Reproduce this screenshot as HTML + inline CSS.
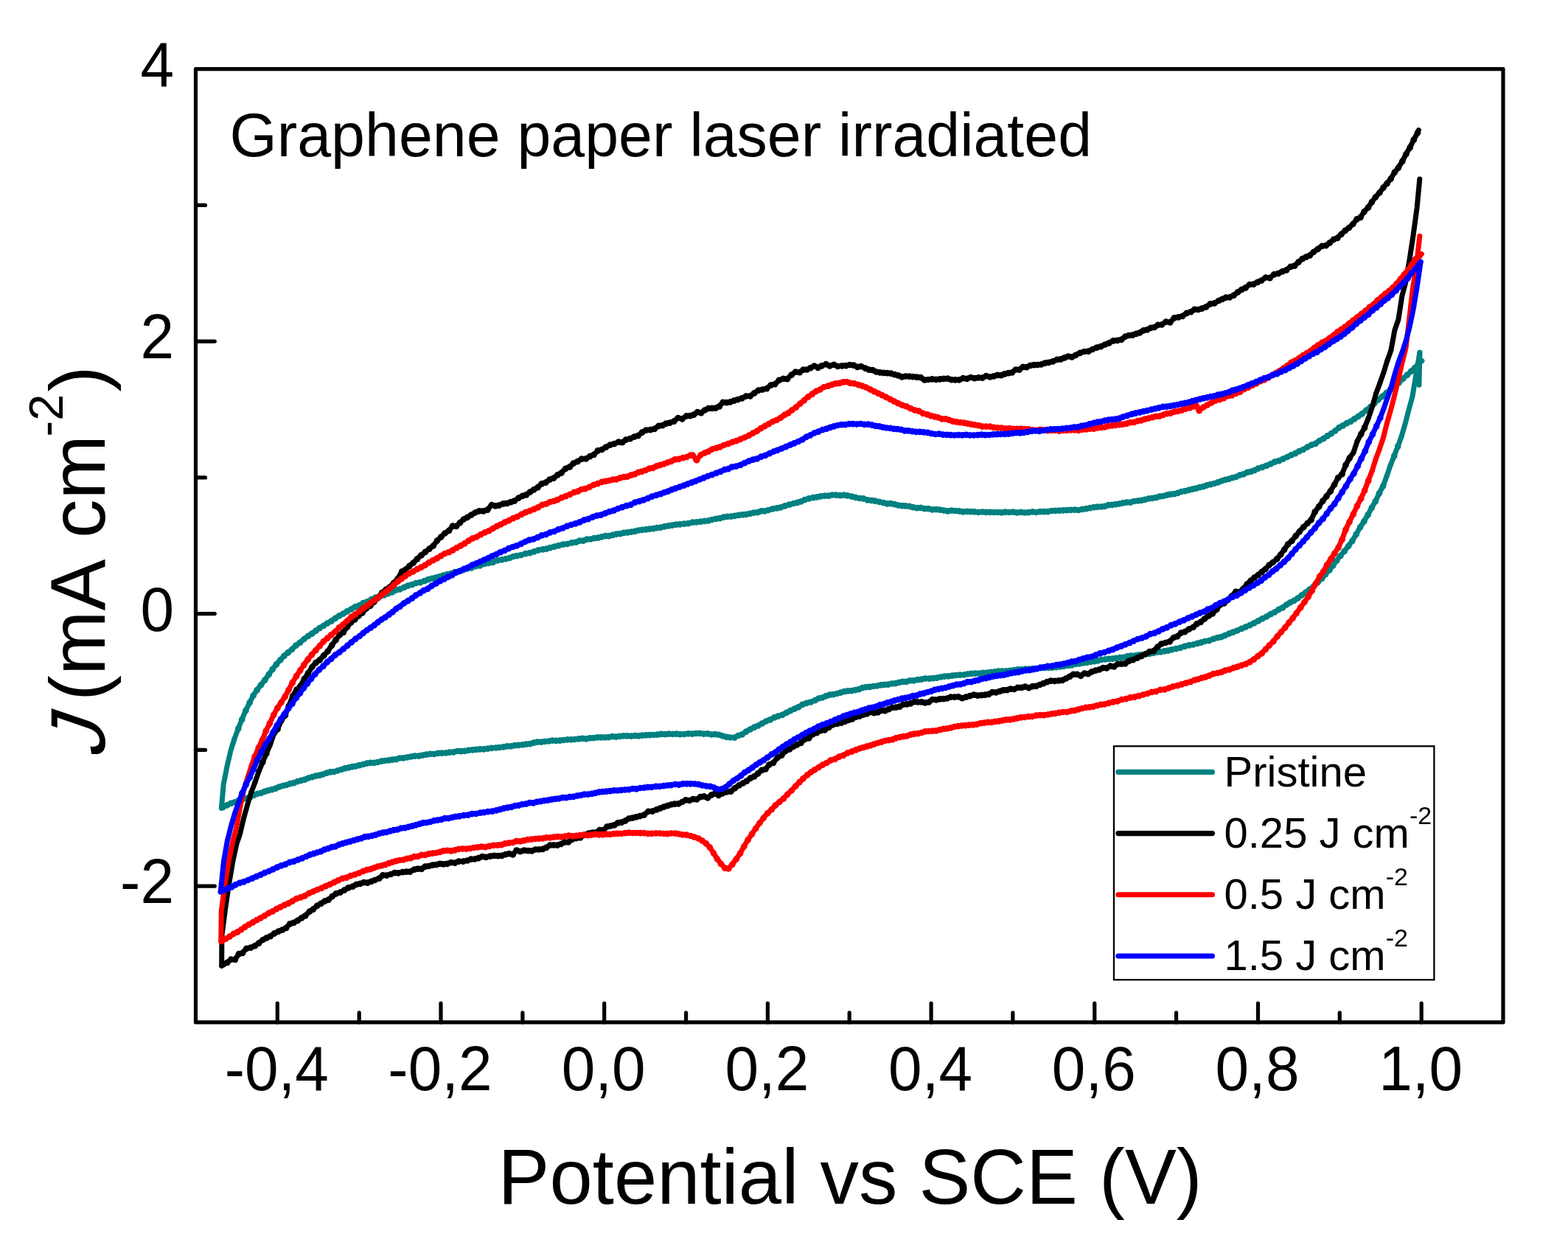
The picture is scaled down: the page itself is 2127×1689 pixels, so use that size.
<!DOCTYPE html>
<html lang="en">
<head>
<meta charset="utf-8">
<title>Graphene paper laser irradiated - cyclic voltammetry</title>
<style>
html,body{margin:0;padding:0;background:#fff;}
body{width:2127px;height:1689px;overflow:hidden;}
svg{display:block;}
text{font-family:"Liberation Sans",Arial,Helvetica,sans-serif;fill:#000;}
.ax{fill:none;stroke:#000;stroke-width:5.2;stroke-linecap:round;stroke-linejoin:round;}
.cv{fill:none;stroke-width:7.0;stroke-linecap:round;stroke-linejoin:round;}
.tk{font-size:82px;}
.lg{font-size:58px;}
</style>
</head>
<body>
<svg xmlns="http://www.w3.org/2000/svg" width="2127" height="1689" viewBox="0 0 2127 1689">
<rect x="0" y="0" width="2127" height="1689" fill="#ffffff"/>
<defs>
<marker id="dot-teal" markerUnits="userSpaceOnUse" markerWidth="12" markerHeight="12" refX="6" refY="5.8" viewBox="0 0 12 12" overflow="visible"><circle cx="6" cy="6" r="4.35" fill="#008080"/></marker>
<marker id="dot-black" markerUnits="userSpaceOnUse" markerWidth="12" markerHeight="12" refX="6" refY="5.8" viewBox="0 0 12 12" overflow="visible"><circle cx="6" cy="6" r="4.35" fill="#000000"/></marker>
<marker id="dot-red" markerUnits="userSpaceOnUse" markerWidth="12" markerHeight="12" refX="6" refY="5.8" viewBox="0 0 12 12" overflow="visible"><circle cx="6" cy="6" r="4.35" fill="#ff0000"/></marker>
<marker id="dot-blue" markerUnits="userSpaceOnUse" markerWidth="12" markerHeight="12" refX="6" refY="5.8" viewBox="0 0 12 12" overflow="visible"><circle cx="6" cy="6" r="4.35" fill="#0000ff"/></marker>
</defs>
<g id="curves">
<g id="curve-teal" class="cv" stroke="#008080">
<path d="M1925 522.2L1925.8 481.7"/>
<path d="M1925.8 481.7L1925.9 478.2"/>
<path d="M1925.9 478.2L1920.9 508.2L1915.9 538.2L1911 556.1L1906.1 575.1L1901.1 592.3"/>
<path marker-mid="url(#dot-teal)" d="M1901.1 592.3L1896.2 605.5L1891.2 618.5L1886.1 631.2"/>
<path d="M1886.1 631.2L1881.1 646.1"/>
<path marker-mid="url(#dot-teal)" d="M1881.1 646.1L1876.1 659.4L1871 669L1865.8 679.9L1860.8 688.6L1855.7 698.1L1850.3 707.2L1845.2 714.9L1839.8 724.6L1834.4 733.6L1829.2 740.6L1823.7 747.6L1818.4 753.8L1813.3 760.1
L1808.3 767L1803.4 773.2L1798.1 778.9L1793.1 784.8L1787.7 789.8L1782.2 795.1L1776.7 799.3L1771 803.6L1765.8 807.3L1760.6 811.3L1755.4 814.6L1750.2 817.1L1745.1 820.3L1739.9 824.2
L1734.7 826.7L1729.3 830.3L1723.7 833L1718.1 836.3L1712.4 839.1L1706.8 842.1L1701.1 845.2L1695.5 847.9L1689.7 850.4L1684.3 852.7L1678.4 855.3L1672.7 857.4L1667.3 859.4L1661.6 861.9
L1656.6 864L1651.6 864.9L1646 866.6L1640.2 868.9L1634.3 869.8L1629.4 871.4L1624.4 872.6L1618.6 874.3L1612.8 875.2L1607 876.6L1601.1 878.6L1595.3 880L1589.4 881.2L1584.4 882.4
L1579.4 883.1L1574.4 884.3L1569.4 884.4L1564.4 885.7L1559.4 886.7L1554.3 886.8L1549.3 887.9L1544.3 888.4L1539.3 889.3L1534.3 889.5L1529.3 890.2L1524.3 891.7L1519.2 891.9
L1514.2 892.7L1509.2 893.4L1504.2 893.7L1499.2 894.3L1494.1 894.8L1489.1 896.2L1484.1 897L1479.1 897.7L1474.1 898.6L1469.1 899.2L1464 900.2L1458.8 900.6L1453.7 902.2L1448.7 902.7
L1442.9 903.7L1437.8 904.2L1432.5 905L1427.4 905.4L1422.3 905.7L1417.1 905.7L1411.9 906L1406.6 907L1401.4 906.8L1396.2 907.4L1391 907.4L1385.7 908.1L1380.5 908.2L1375.3 908.9
L1370.1 909.6L1364.8 910.3L1359.6 910.3L1354.4 910.3L1349.2 911.2L1344 911.6L1338.7 912.4L1333.5 912.6L1328.3 913.5L1323.1 913.4L1317.8 913.7L1312.6 914.3L1307.4 915.3L1302.2 915.5
L1296.9 915.8L1291.7 916.4L1286.5 917.1L1281.3 917.5L1276 918.3L1270.8 919.4L1265.6 920L1260.4 920.5L1255.1 920.3L1249.9 921.4L1244.7 921.9L1239.5 923.2L1234.3 923.2L1229.3 924.6
L1224.4 924.6L1219.4 925.6L1214.5 926.9L1209.5 927.3L1204.6 928.4L1199.6 928.7L1194.7 929.1L1189.7 930.3L1184.8 930.8L1179.8 931.6L1174.9 932L1169.9 933L1165 934.9L1160 936
L1155.1 937L1150.1 937.2L1145.2 937.9L1140.2 939.5L1135.3 940.8L1130.3 941.9L1125.4 942.5L1120.4 944.1L1115.5 946.3L1110.5 947.3L1105.6 950L1099.8 952.3L1094.1 953.6L1088.5 955.7
L1082.9 959.2L1077.6 961.5L1072.3 963.9L1066.9 966.7L1061.3 969.7L1055.5 971.5L1050.6 973.1L1044.8 976.1L1039.2 978.3L1033.8 981.3L1028.5 984.3L1023.2 986.4L1017.7 989.3
L1012.1 992.4L1006.7 996.2L1001.3 997.8L996.4 1000.4L990.6 1000.3L985.6 999.6L980.4 998.3L975.3 996.7L970.2 996L965.1 996.3L959.8 995.1L954.7 995.4L949 994.6L944 994.8L938.9 995.4
L933.6 995.1L928.3 995.8L922.5 996L917.5 995.5L912.4 995.6L907.2 995.4L902 996L896.8 995.7L891.7 996.5L886.6 996.8L881.5 996.9L876.4 997.2L871.4 997.4L866.3 998.1L861.2 997.9
L856.1 998.5L851 998.2L845.9 998.2L840.9 998.6L835.8 999.4L830.7 999L825.6 999.9L820.5 1000.3L815.4 1000.2L810.4 1000.1L805.3 1001L800.2 1001.1L795.1 1002.1L790 1001.7L785 1002.2
L779.9 1002.8L774.8 1003.2L769.7 1003.2L764.6 1003.8L759.5 1004.4L754.4 1004.6L749.4 1004.5L744.3 1005.3L739.2 1005.8L734.1 1006.4L729 1006.5L724 1007.5L718.9 1008.9L713.8 1009.5
L708.7 1010.2L703.6 1010.7L698.5 1011L693.3 1012.2L688 1012.2L682.8 1013.2L677.6 1013.8L672.6 1014.3L666.8 1014.7L661.6 1015.4L656.2 1016.2L651 1016.2L646 1016.7L641.1 1017.1
L635.7 1017.6L630.5 1018.7L625.4 1018.9L620.2 1018.8L615 1020.2L609.8 1020.4L604.5 1021.3L599.3 1021.4L594.1 1021.7L588.9 1022.8L583.7 1022.7L578.4 1023.4L573.2 1024.4L568 1025.5
L562.8 1025.4L557.5 1026.3L552.3 1027.3L547.1 1028.2L542.1 1028.3L537.2 1029.9L532.2 1030.4L527.3 1031.2L522.3 1031.8L517.4 1032.4L512.4 1033.8L507.5 1034.7L502.5 1034.6
L497.6 1035.4L492.6 1036.8L487.7 1038L482.7 1039.3L477.8 1040L472.9 1041.2L467.9 1042.2L463 1043.8L458 1045.3L453.1 1046.8L448.1 1047.1L443.2 1048.4L438.2 1050.3L433.3 1051.6
L428.3 1052.4L423.4 1053.9L418.4 1055.3L413.5 1057.5L408.5 1058.6L403.6 1060L398.6 1062L393.7 1062.9L388.7 1064.8L383.8 1065.8L378.8 1067.3L373.9 1069.4L368.9 1071L364 1072.1
L359 1073.6L354.1 1075.6L349.1 1076.6L344.2 1078.6L339.2 1081.1L334.2 1082.9L329.2 1083.6L324.3 1085.3L318.4 1088.2L313.3 1089.6L307.9 1092.1L302.8 1094.8L300.4 1096.3"/>
<path d="M300.4 1096.3L303.2 1064.2L308.2 1038.7L313.2 1017.5L318.1 1002.1"/>
<path marker-mid="url(#dot-teal)" d="M318.1 1002.1L323.2 988.4L328.2 976L333.4 963.7L338.7 953L343.6 943.5L348.6 936L354.1 929L359.3 922.5L364.8 914.7L369.7 907.7L374.9 901.2L380.3 895.2L385.4 889.6L390.7 885.2
L396.1 880.8L401.5 875.5L406.9 871.7L412.5 866.8L418.1 862.7L423.2 859.5L428.3 855.6L433.5 851.9L438.8 848.8L444.2 845.3L449.5 842.4L454.9 838.6L460.3 835.2L465.6 832.5L471 829.2
L476.4 826.3L481.8 823.1L487.1 821.4L492.6 817.9L498.2 816.2L503.8 812.9L509.5 810.5L515.3 809L521.1 807.1L526.1 805.1L531.8 803.3L537 800.5L542.5 799.1L548.2 796.7L553.3 794.5
L559 793L564.3 790.8L570 789.9L575.8 788L580.9 786L586 784.7L591.1 783.4L596.2 782.2L601.2 780.5L607 778.9L612 777.8L616.9 776L621.8 775.2L627.7 773.2L633.5 771.5L639.4 770.1
L645.2 768L651.1 767.2L657 764.8L662.8 763.7L668.7 762.6L674.6 760.1L680.5 759.2L686.3 758L691.2 756.8L696.1 754.8L701 753.9L706.9 752.8L712.8 751L718.7 749.9L724.5 748.2
L730.4 746.1L736.3 745.1L741.2 744.5L746.1 742.9L752 741.5L757.8 740L763.7 738.5L769.6 737.8L775.5 736.2L781.3 735.4L786.2 733.4L791.1 733.4L796.1 731.5L801.1 731.3L806.1 730
L811.1 729.4L816.1 728.1L821.1 726.9L826.1 726.9L831.1 725.7L836.1 724.4L841.1 724L846.1 722.7L851.1 722.1L856.1 721.5L861.1 720.7L866.1 719.3L871.1 718.6L876.1 718.1L881.1 717.4
L886.1 717L891.1 715.9L896.3 715.4L901.5 714.1L906.8 713.1L912 712.5L917.2 711.4L922.3 711.1L928.1 710.5L933.6 710L939.5 708.4L944.7 708.2L950.5 707.5L956.1 706.6L961 706.2
L966.1 704.8L971.3 703.7L976.4 702.9L981.5 701.4L986.6 700.6L991.7 700.4L996.8 699.6L1001.9 698.6L1007 698.1L1012.1 697.6L1017.2 696.6L1022.4 695.5L1027.5 695L1032.5 693.2
L1037.4 693.1L1042.3 691.8L1048.2 690.2L1054 689.1L1058.9 688.1L1064.8 686.1L1070.7 684.5L1076.6 682.8L1081.5 681.6L1086.5 680.1L1091.4 678L1097.3 676.1L1103.1 675L1108.2 674.1
L1113.2 673.1L1118.9 672.5L1124 672.5L1129 671.3L1134 671.4L1139.7 671.9L1144.7 671.4L1149.7 672.2L1155.4 673.4L1160.6 674.6L1165.9 675.8L1171.1 676.2L1176.9 678.2L1182.1 678.7
L1187 679.4L1192.8 680.6L1198.6 681.9L1203.6 683.1L1208.5 683L1213.5 683.9L1218.4 685.3L1223.4 686L1228.3 686.1L1233.3 686.7L1238.4 688L1243.7 688.9L1248.9 688.7L1254.1 689.9
L1259.3 690L1264.5 691.1L1269.8 691L1275 691.5L1280.2 692.3L1285.4 693.1L1290.7 692.4L1295.9 692.8L1301.1 693.2L1306.3 694.1L1311.6 693.7L1316.8 693.9L1322 694.2L1327.2 694.8
L1332.5 694.3L1337.7 694.6L1342.9 694.7L1348.1 694.8L1353.4 694.8L1358.6 695.2L1363.8 694.5L1369 694.8L1374.3 694.4L1379.5 695.3L1384.7 694.7L1389.9 695.3L1395.1 694.9L1400.4 694.2
L1405.6 694.8L1410.8 693.9L1416 694L1421.3 693.9L1426.4 692.8L1431.6 692.6L1436.8 692.5L1442.1 692.2L1447.2 691.9L1452.5 691.6L1457.9 691.4L1463 691.8L1468.3 690.6L1473.5 689.9
L1478.6 688.9L1483.8 688L1488.8 687.4L1493.7 687.3L1498.7 686.6L1503.6 685L1508.6 684.6L1513.5 684L1518.4 683.3L1523.4 682.1L1528.3 681.3L1533.3 681.4L1538.2 679.8L1543.2 679.3
L1548.1 678.7L1553.1 677.6L1558 676.3L1563 675.7L1567.9 674.9L1572.9 673.4L1577.8 672.8L1582.8 671.5L1587.7 670.4L1592.7 670L1597.6 668.7L1602.6 666.8L1607.5 666L1612.5 664.6
L1617.4 663.4L1622.4 662.5L1627.3 660.9L1632.3 659.9L1637.2 658.1L1642.2 656.9L1647.1 655.8L1652.1 654.2L1657 652.3L1662 650.7L1666.9 649.6L1671.9 647.9L1676.8 646.8L1681.8 644.3
L1686.7 643.2L1691.7 640.7L1696.6 639.7L1701.6 638L1706.5 635.5L1712.3 633.6L1717.9 631.7L1723.6 629.1L1729.2 626.5L1734.9 625L1740.5 622.5L1746.2 619.8L1751.6 617.1L1757.1 614.9
L1762.4 611.9L1767.8 609.8L1773.6 606.3L1779.1 603.5L1784.5 601.6L1789.8 597.8L1795.2 595L1800.7 591.2L1806 588L1811.2 584.3L1816.4 579.9L1821.7 577.1L1826.9 573.9L1832.1 571.7
L1837.3 568.1L1842.5 564.8L1847.7 561.1L1853.4 556.5L1859 552L1864.3 547.3L1869.5 542.2L1875.1 537.6L1880.7 533L1886.4 527.9L1892 523.1L1897.7 518.9L1903.3 513.4L1908.9 508.5
L1914.3 503.5L1919.4 498.8L1924.5 493L1928.9 489.5"/>
</g>
<g id="curve-black" class="cv" stroke="#000000">
<path d="M1925.8 243.1L1922.1 282.1L1917 319.7L1912 352.2L1906.9 382.5L1901.9 401.4L1896.9 433.5L1892 447.7L1886.9 475.2"/>
<path d="M1886.9 475.2L1881.9 489.1"/>
<path d="M1881.9 489.1L1877 505.2L1871.7 520.2"/>
<path d="M1871.7 520.2L1866.5 534.1"/>
<path d="M1866.5 534.1L1861.5 551.9L1856.3 567.1"/>
<path marker-mid="url(#dot-black)" d="M1856.3 567.1L1851.1 579.9L1846.2 588.8L1841.1 598.7"/>
<path d="M1841.1 598.7L1835.9 614.2"/>
<path marker-mid="url(#dot-black)" d="M1835.9 614.2L1830.7 621.2L1825.5 630.7L1820.5 643L1815.1 648.1L1810.1 657.3L1804.8 666.2L1799.5 673.2L1794.4 679.5L1789.1 687.2L1783.8 694.1L1778.7 704.9L1773.6 709.8L1768.2 715
L1762.8 720.9L1757.7 727L1752.4 733.6L1747.2 738.2L1742.2 745.4L1737.2 752.3L1732.2 758.1L1726.7 762.8L1721.7 766.3L1716.7 771.8L1711.7 775.6L1706.7 779.9L1701.6 783.3L1696.6 787.6
L1691.6 792.4L1686.6 798.4L1681.5 803L1676.3 802.6L1670.8 808.6L1665.5 813.8L1660.5 818.3L1655.5 819.9L1650.5 826.5L1644.8 832.3L1639.7 835.2L1634 839.3L1628.8 843.7L1623.6 846.1
L1618.5 850.8L1612.8 853.4L1607.3 856.9L1602.1 858.5L1597.1 863.1L1592.1 864.8L1586.7 870.1L1581 871.8L1575.4 873.5L1570.1 877.7L1564.8 883L1559.4 883.9L1553.8 887.3L1548.2 890
L1542.5 892.5L1536.9 894.9L1531.2 896.7L1526.3 900.2L1521.3 900.4L1516.2 900.6L1511.2 904.1L1506.2 903.4L1501.2 906.1L1496.2 906L1491.1 908.3L1486.1 909.5L1481.1 911.1L1476.1 913.9
L1471.1 913.3L1466.1 916.6L1461.1 914.7L1456 914.7L1451.1 917.6L1446.1 920.3L1441 922.7L1436 923.2L1430.8 923.7L1425.5 923.4L1420.3 925L1415.4 927L1410.5 928.8L1405.5 930.6
L1400.6 931L1395.6 932.9L1390.6 931.3L1385.7 932.6L1380.7 932.7L1375.8 934.8L1370.8 934.4L1365.9 935.9L1360.9 936.1L1356 937.6L1351.1 939.3L1346.1 938.9L1341.2 941.6L1336.2 942.5
L1331.3 943L1326.2 943.5L1321 942.4L1315.7 943.9L1310.5 945.4L1305.3 946.9L1300.1 945.2L1294.8 945.5L1289.7 945.4L1284.7 947.3L1279.8 947.9L1274.8 948.2L1269.9 949.3L1264.9 948.8
L1260 952.3L1255 953.3L1250.1 952.2L1245.1 952.3L1240.2 951.9L1235.2 954.1L1230.3 955.1L1225.3 955.4L1220.4 958.4L1215.4 959.4L1210.5 959.8L1205.6 961.9L1200.6 963.9L1195.7 963.6
L1190.7 966.2L1185.7 967L1180.8 966L1175.8 968.1L1170.9 969.4L1165.9 971.4L1161 972.4L1156.1 975.3L1151.1 976.8L1146.1 978.7L1141.2 980.4L1135.5 981.8L1129.8 983L1124.2 986.7
L1118.7 990.2L1113.3 991L1107.9 994L1102.6 995.9L1097.2 1001.1L1091.8 1002.7L1086.5 1007.6L1081.2 1010.1L1076.2 1012.7L1071.1 1016.1L1065.9 1018.5L1060.3 1024.4L1054.7 1027.6
L1049 1034.7L1043.4 1037.1L1038.5 1043.3L1033.3 1044.6L1028.2 1049.2L1023.2 1053.2L1018.1 1055.5L1013 1059.4L1007.9 1062.3L1002.6 1065.2L997 1069L991.4 1073.5L985.7 1074.2
L979.8 1076.2L974.8 1078.7L969.9 1076.5L964.9 1078.4L960 1082.3L955 1080.2L950.1 1081L945.1 1084.3L940.1 1083.9L935.2 1085.8L930.3 1085.2L925.3 1087.8L920.4 1090.2L915.4 1090.5
L910.5 1091.3L905.5 1092.9L900.6 1094.5L895.6 1096.4L890.7 1098.2L885 1100.5L879.4 1100.6L873.7 1105.4L867.9 1106.9L863 1108.1L858 1109.5L853.1 1110.3L848.1 1113.5L843.2 1115.4
L838.2 1116.2L833.3 1119.2L828.3 1120.3L823.4 1121.5L818.4 1126.1L813.5 1125.8L808.5 1129.1L803.6 1129.4L798.6 1130.4L792.9 1132.3L787.2 1136.2L781.6 1137L775.9 1138.7L770.9 1142.3
L766 1142.4L761 1144.8L756.1 1146.5L751.1 1146.3L746.2 1146.4L741.2 1149.6L736.3 1151.6L731.3 1152.3L726.4 1152.3L721.4 1154.1L716.2 1153.9L711 1153.4L705.7 1154.9L700.6 1153.5
L695.7 1159.2L690.7 1157.9L685.8 1159L680.7 1160.6L675.6 1161L670.4 1160.6L665 1161.5L659.2 1162.6L654.1 1162L649 1163.9L644 1165.3L639 1165.5L634 1167.3L628.2 1168.4L622.3 1168.5
L617.1 1170.5L611.9 1170L606.6 1171.7L601.5 1172.1L596.6 1171.6L591.6 1172.9L586.7 1173.5L581.7 1174.8L576.8 1175.4L571.8 1178.6L566.9 1178.5L562 1179.4L556.1 1182.4L551.2 1182.5
L546.1 1183L540.3 1184.2L535.3 1184L530.3 1185.8L524.5 1187.5L519.4 1187.2L514.4 1191.5L508.5 1193.8L503.6 1195.7L498.5 1197.5L493.6 1197L488.6 1198.6L483.5 1199.7L478.5 1202.4
L472.7 1204.1L467.1 1207.5L461.5 1210.4L455.9 1212.1L450.6 1216L445.6 1220.5L440.5 1222.4L435.3 1225.7L430.1 1228.6L424.8 1233.5L419.9 1236.5L414.2 1242.1L409.1 1245.1L403.8 1248.7
L398.4 1251.6L393.3 1253.2L388.2 1258.7L383.2 1261.2L377.7 1263.5L372.2 1266.2L366.8 1269.9L361.7 1272.1L356.6 1274.8L351 1279.4L345.9 1283L340.2 1285.4L334.3 1286.7L329 1292.6
L324 1294L318.9 1301.6L313.4 1301.5L308.3 1305.6L303.2 1307.9L300.7 1310.2"/>
<path d="M300.7 1310.2L300.9 1269.4L305.9 1231L310.9 1197.4L315.8 1168.6L320.8 1145.5L325.7 1130.8L330.8 1109.2L335.8 1091.4L340.9 1074.4"/>
<path d="M340.9 1074.4L345.9 1061.4"/>
<path d="M345.9 1061.4L351.1 1046.4"/>
<path marker-mid="url(#dot-black)" d="M351.1 1046.4L356.3 1033.8L361.3 1022.2L366.3 1010.8"/>
<path d="M366.3 1010.8L371.2 996.4"/>
<path marker-mid="url(#dot-black)" d="M371.2 996.4L376.5 989L381.7 977L386.9 970.1L391.8 957.7L397.1 944.2L402.5 935.5L407.6 930.5L412.8 920.9L418 913.1L423.3 904.8L428.4 898.9L433.7 895.1L439.2 889.2L444.7 883.3
L450.1 875.4L455.5 868L460.9 860.9L465.8 857.7L471 850.4L476.1 844.3L481.3 840.2L486.4 835.2L491.6 831.2L496.9 825.1L502.2 821.8L507.4 816.4L512.7 810.9L518.1 804.1L523.7 799.7
L528.7 796.5L534 790.8L539.6 785.1L545.1 775.4L550.1 772.6L555.4 767.7L560.6 763.5L565.9 758.2L571.4 753.2L576.9 748.7L582.4 744.4L587.7 740.3L593 733.3L598.2 728.5L603.5 723.3
L609.1 719.6L614.1 713.4L619 713.7L624 709L629 704.3L634 701.7L639.3 698.4L644.6 695.3L650.1 693.1L655.8 693.2L661.4 691.4L667 684.9L672.1 686.1L677 685.5L682.8 683.1L687.8 682.6
L692.8 681L697.7 679.5L703.5 675.4L708.7 672.7L713.8 671.2L718.9 667.5L724.1 664.2L729.5 660.9L734.8 656.1L740.2 654.5L745.6 650.4L751 648.5L756.4 644.1L761.5 641.4L767.2 635.6
L772.9 633.2L777.8 628.4L783.4 626L789.1 622.4L794.8 622.2L800.2 619L805.6 616.6L811 611.2L816.4 609.8L822 606.4L827.6 603.5L833.3 601.9L839.2 599.4L844.2 600L849.1 596.5
L854.9 594.9L860.3 592.4L865.6 590.9L871 586.5L876.5 583.4L882.2 583L887.8 581.7L893.6 577.7L898.6 577L903.5 574.5L908.5 573.5L914.2 571.5L919.8 566.8L925.4 568.1L931.2 564.2
L936.2 563.9L941.1 562.4L946.1 559L951.1 559.9L956 556.3L960.9 554L965.9 553.7L970.8 553.5L975.8 551.1L980.7 545.6L985.7 545.9L990.6 545.2L995.6 543.5L1000.6 541.9L1006.4 540.2
L1012 537.3L1017.6 537.1L1023.2 533.2L1028.8 529.5L1034.4 528.3L1040.1 526.9L1045.6 522.4L1051.2 521L1056.8 515.7L1062.4 513.7L1067.9 513.9L1073.6 508.5L1079.1 504.5L1084.8 504.9
L1089.7 501.5L1094.6 501.3L1099.6 498.9L1104.6 496.3L1109.6 498.6L1114.6 496.2L1120.5 494L1125.5 496.2L1131.3 494.7L1136.5 496.8L1142.3 496.1L1147.6 495.9L1152.9 494.8L1158 495.5
L1163.1 497.7L1168.1 497L1173.9 499.5L1178.8 501.4L1183.8 502L1188.7 504.3L1193.7 505.1L1198.6 505.7L1203.6 505.9L1208.5 506.5L1213.5 507.9L1218.4 509.1L1223.4 511.1L1228.3 510.3
L1233.3 510.4L1238.4 510.9L1243.6 511.4L1248.9 512L1254.1 515.3L1259.3 514.8L1264.5 514.1L1269.8 514.7L1275 514.1L1280.2 513.6L1285.4 513.4L1290.7 514.9L1295.9 515.2L1301.1 515.2
L1306.3 512.9L1311.6 513.7L1316.8 511.8L1322 513L1327.2 512.1L1332.5 512.4L1337.7 510L1342.9 511.1L1348.1 510.2L1353 508.7L1358 508.9L1362.9 507.1L1367.9 505.9L1372.8 505.2
L1377.8 501.3L1382.7 501.5L1387.7 497.6L1392.6 497.9L1397.6 495.7L1402.5 494.9L1407.5 494.8L1412.4 494.1L1417.4 492.5L1422.3 491.7L1428.2 490.1L1434 487.7L1439 487.1L1444 485.1
L1449 483.3L1454.1 484.1L1459.2 481.6L1465 478.7L1470.8 476.8L1476.4 476.5L1481.9 473.8L1487.6 471.5L1493.2 470L1498.9 467.3L1504.5 465.1L1510.1 462.2L1515.8 461.6L1521.4 460.4
L1526.4 456.4L1531.3 454.8L1536.3 454.4L1541.2 452.7L1546.2 451.1L1551.1 448.1L1556.1 447.1L1561 444.6L1566 443.8L1570.9 440.7L1575.9 440.3L1581.6 436.4L1587.3 437.1L1592.9 431.1
L1598.5 430.1L1604.1 428.6L1609.8 424.6L1615.4 423L1620.4 419.6L1625.3 419.8L1630.3 418.5L1636.1 416.2L1641.8 412.2L1647.4 411.2L1653.1 407.8L1658 405.7L1663 403.5L1668 403.2
L1673.7 400.4L1679.1 396.2L1684.4 392.6L1689.8 390.1L1695.1 385.8L1700.5 385.4L1705.9 382.7L1711.3 380.3L1717 376.3L1722.6 376.9L1728.3 372.1L1733.9 370.9L1739.6 368.1L1745.2 366.1
L1750.7 361.6L1756.1 360.5L1761.4 355.4L1766.7 350.9L1771.8 348.5L1776.9 346.1L1781.8 341.8L1787.7 337.6L1793.3 333.6L1798.7 332.9L1803.9 329.1L1809.1 324.7L1814.3 322.6
L1819.5 317.6L1824.8 312.6L1830 308.8L1835.3 303.8L1840.6 297.1L1845.6 294.6L1850.6 286.9L1855.9 281.5L1860.9 273.9L1865.9 267.3L1871.3 261.3L1876.5 254.4L1881.6 248.6L1886.6 242.5
L1891.9 233.4L1896.9 227.4L1902.3 218.7L1907.4 208.8L1912.7 199.9L1917.8 189.5L1923 180L1924.4 176.5"/>
</g>
<g id="curve-red" class="cv" stroke="#ff0000">
<path d="M1925.8 320.3L1921.4 360.8L1916.4 391.2L1911.9 431L1907 472.4L1901.9 492.5L1896.8 515.1L1891.6 536.7L1886.6 556.1L1881.6 573.3L1876.5 593.6L1871.5 608.6"/>
<path d="M1871.5 608.6L1866.3 622.6"/>
<path d="M1866.3 622.6L1861.3 638.7"/>
<path marker-mid="url(#dot-red)" d="M1861.3 638.7L1856.1 652.1L1851.2 665.2L1846.1 676.4L1841 686.2L1835.7 697.5L1830.5 707.8L1825.4 718.5L1820.5 732L1815.5 742.6L1810.2 750.7L1805.2 758.5L1800.2 766.1L1795.3 775
L1790.3 781.6L1785 791.4L1779.8 801L1774.7 809.4L1769.5 816.8L1764.1 824.2L1758.7 831.6L1753.6 838.5L1748.4 844.6L1743.1 851.5L1737.8 857.3L1732.7 863.2L1727.4 869.9L1721.8 875.5
L1716.9 880.6L1711.7 886.1L1706.4 889.9L1700.7 894.5L1695.4 897.9L1690 900.6L1684.3 902.4L1678.5 904.5L1673.2 905.9L1667.7 908.2L1661.9 909.4L1656.9 911.6L1651.7 912.8L1646 914
L1640.3 916.4L1635.4 918.3L1630.4 919.4L1625.4 921.3L1620.5 922.4L1614.7 925L1608.9 926.4L1603.1 928.1L1597.3 929.9L1591.4 931.1L1585.6 933.2L1579.8 935.2L1574 935.7L1568.1 938
L1562.3 938.7L1556.5 940.8L1550.7 942.3L1544.8 943.9L1539 945.4L1533.2 946.2L1527.4 948L1521.5 949L1515.7 951.1L1509.9 952.1L1504.1 953.6L1498.2 955.3L1493.2 955.6L1488.2 957
L1483.1 958.5L1478.1 959.2L1473.1 959.7L1468.1 960.8L1462.9 962.1L1457.7 963.7L1452.5 964.3L1447.5 965.8L1441.8 965.8L1436.6 966.7L1431.4 967.7L1426.4 968.3L1421.3 969.3
L1416.1 969.9L1410.8 969.9L1405.6 970.5L1400.4 971.8L1395.1 971.9L1389.9 972.8L1384.7 973.2L1379.7 974.1L1374.8 975.1L1369.9 976.1L1364.9 976.1L1360 977.2L1355 978.1L1350.1 978.7
L1345.1 979.6L1340.2 979.7L1335.2 980.5L1330.3 981L1325.1 982.5L1319.9 983.1L1314.7 983.5L1309.5 983.9L1304.5 984.3L1299.6 985L1294.6 985.8L1289.7 987.2L1284.7 988.2L1279.8 988.6
L1274.8 990L1269.9 991.1L1264.9 991.5L1260 991.8L1255 992.2L1250.1 993.8L1245.1 995L1240.2 995.5L1235.2 996.4L1230.3 998.3L1225.3 998.9L1220.4 1000L1215.4 1001.1L1210.5 1003.1
L1205.5 1004L1200.6 1004.8L1195.6 1006.4L1190.7 1007.8L1185.7 1009.5L1180.8 1011.1L1175.8 1012.4L1170.9 1014L1165.9 1015.3L1161 1017.1L1155.3 1019.4L1149.6 1021.5L1144 1024.6
L1138.3 1026.4L1132.7 1029.6L1127 1031.2L1121.4 1034.8L1116 1037.4L1110.6 1040.8L1105.2 1044.2L1100.2 1047.3L1095.2 1051.1L1089.5 1056.1L1084.5 1060.9L1079.2 1066.5L1073.7 1072.3
L1068.1 1077.7L1063 1083.1L1057.4 1087.8L1051.8 1092.5L1046.7 1098L1041.1 1103.2L1035.7 1109.6L1030.5 1116.3L1025.2 1123.7L1019.9 1131.4L1014.6 1139.2L1009.2 1148.3L1004 1157.7
L998.9 1165.1L993.3 1172.7L988.3 1178.2L983.2 1177.4L977.9 1171.7L973 1165.3L968 1157.3L962.8 1149.4L957.8 1144.2L952.7 1140.5L947.5 1137.3L941.7 1135.4L936.8 1133.8L931.1 1132.5
L926.2 1132.3L921 1131.3L916.1 1130.4L910.4 1130.3L905.4 1130.9L900.2 1130.8L895 1130.3L889.7 1130.3L883.9 1130.6L878.9 1130.7L873.8 1130L868.6 1130L863.4 1129.8L858.2 1129.8
L853.1 1129.5L848 1129.9L842.9 1130.8L837.8 1130.7L832.7 1130.9L827.6 1131.7L822.6 1131.5L817.5 1132.1L812.4 1132.1L807.3 1131.6L802.2 1132.4L797.1 1132.9L792.1 1132.3L787 1132.9
L781.9 1133.7L776.8 1134.2L771.7 1133.5L766.6 1134.3L761.6 1135.3L756.5 1134.9L751.4 1135.5L746.3 1136.2L741.2 1136.2L736.2 1137.2L731.1 1137.4L726 1137.8L720.9 1138.5L715.8 1138.9
L710.7 1140.1L705.7 1141.2L700.6 1141L695.6 1142.8L690.4 1143.5L685.3 1144.2L680.2 1145.9L675.3 1146.4L669.5 1146.7L663.9 1147.6L658.3 1149L653.1 1148.4L648 1149.1L643.1 1149.8
L637.8 1150.8L632.6 1151.4L627.5 1151.3L622.3 1151.7L617.1 1153.2L611.9 1154.1L606.6 1153.7L601.5 1154.2L596.6 1155.7L591.6 1156.8L586.7 1157.5L581.7 1158.2L576.8 1159.6
L571.8 1159.7L566.9 1161.6L561.9 1161.9L557 1163.9L552 1164.7L547.1 1166.3L542.1 1166.8L537.2 1168L532.2 1169.4L527.3 1171L522.3 1172.9L517.4 1174.3L512.4 1175.3L507.5 1177.1
L502.5 1178.9L497.6 1180L492.6 1181.7L486.9 1184.3L481.3 1186.3L475.6 1188L470 1190.5L464.3 1191.6L458.7 1194.1L453.1 1196.9L447.4 1199.7L441.8 1202L436.1 1204.7L430.5 1206.8
L424.9 1209.3L419.2 1211.7L413.6 1215.1L407.9 1217.1L402.3 1219L396.6 1222.4L391.2 1225.4L385.9 1227.6L380.5 1230.4L375.1 1233L369.8 1236.1L364.4 1238.6L359 1242.1L353.6 1245.1
L348.3 1248L342.9 1251.1L337.6 1254.1L332.3 1257.4L327.2 1260.9L322.2 1264.1L316.8 1266.7L311.5 1270.5L306.3 1273.5L300.7 1276.7L299.8 1276.8"/>
<path d="M299.8 1276.8L300.2 1236.1L305.2 1199L310.3 1167.8L315.3 1143.7L320.5 1123.5L325.5 1095.8L330.5 1072.6L335.5 1056.3L340.7 1040"/>
<path marker-mid="url(#dot-red)" d="M340.7 1040L345.7 1026.2L350.9 1014L355.9 1003.6L360.8 991.5L365.9 981.2L371.3 969.6L376.3 960.5L381.4 952.8L386.6 945L391.5 935.8L396.7 926L402.1 917L407.2 909.4L412.3 901.9
L417.7 894.4L422.9 888L428.4 881.9L433.8 876L438.8 870.1L444.1 865.7L449.3 861.2L454.7 856.8L460.2 851.1L465.6 847.1L471.2 841.8L476.7 836.7L482.2 833.2L487.8 829.1L492.7 825.1
L497.7 821.7L502.7 817.8L507.8 813.9L512.8 810.6L518.4 806.2L523.8 802.5L529.3 797.6L534.7 793.1L539.7 788.7L544.7 784.9L549.8 781.3L555.1 777.6L560.5 775.1L565.9 771.9L571.3 769.4
L576.6 766.6L582 763L587.4 760L592.8 757.2L598.1 754L603.5 750.8L608.9 749L614.3 746.1L619.6 742.9L625 740.2L630.2 737.2L635.6 733.4L641.1 730.2L646.5 728.3L652.1 724.9L657.8 722.1
L663.3 720L668.7 716.8L674.1 713.6L679.4 711.3L684.7 708.5L690.4 706L696 702.9L701.7 700.8L707.3 697.7L713 695L718.6 692.9L724.2 690.7L729.9 688.2L735.5 684.7L741.2 683.3
L746.1 680.8L751.1 679.6L756.1 678L761.9 675L767.5 672.9L773.1 670.6L778.8 667.7L783.8 666.5L788.7 663.8L793.7 663L799.5 660.7L805.1 657.8L810.7 655.9L816.4 653.7L821.4 652.6
L826.3 651.8L831.3 650.5L836.2 650.1L841.2 648.2L846.2 647L851.1 646.5L856 644.4L861 643.1L865.9 640.7L870.9 639.4L875.8 637.8L880.8 635.4L885.7 634.6L890.7 632.2L895.6 630.6
L900.6 629.3L905.5 627.3L910.5 625.6L915.6 623.2L920.7 622.7L926.5 621L931.6 619.8L936.6 617.4L939.6 617.3L944.5 623.5L945.2 623.9L950.8 616.8L955.8 614.3L960.8 612.4L965.9 609.3
L971.6 607.7L976.7 606.2L981.7 603.8L987.5 602L993.2 599.7L998.8 598L1004.4 595.7L1010.1 593.3L1015.8 590.6L1021.4 587.5L1026.8 584.6L1032 581L1037.4 578L1042.8 574.9L1048.1 571.8
L1053.6 569.7L1059 566.6L1064.2 562.7L1069.3 560.1L1074.2 556.3L1079.8 552.4L1085.4 547.4L1090.8 542.9L1096.3 538.2L1101.8 534.4L1107 530.7L1112.5 528.3L1117.9 524.8L1123.5 523.4
L1128.6 521.6L1133.6 520.1L1138.6 519.6L1143.7 518.1L1148.8 518L1153.7 519.6L1159 520.1L1164.7 522L1169.7 523.5L1174.8 525.3L1180.5 528.2L1185.9 531L1191.3 533.4L1196.6 536
L1202 538.6L1207.4 541.4L1212.7 544.2L1218.3 547L1223.9 549.5L1229.5 551.2L1235.2 554L1240.8 556.3L1246.5 557.5L1252.1 560.7L1258 562.1L1262.9 563.9L1267.9 565.1L1272.9 566.3
L1277.8 568.2L1282.7 568.2L1287.7 569.7L1292.6 571.5L1297.6 572.1L1302.5 572.9L1307.5 573.5L1312.4 574.5L1317.4 575.5L1322.3 576.1L1327.3 577L1332.5 578.4L1337.7 578.4L1342.9 578.5
L1348.1 579.7L1353.4 580.2L1358.6 580.3L1363.8 581.4L1369 580.8L1374.3 581.7L1379.5 581.7L1384.7 581.5L1389.9 582L1395.1 582.1L1400.4 583.1L1405.6 583.6L1410.8 582.7L1416 583.5
L1421.3 583.9L1426.4 583.6L1431.6 583.7L1436.8 584.4L1442.1 583.7L1447.2 583.7L1452.5 583.3L1457.9 583.2L1463 583.7L1468.3 582.5L1473.5 582.2L1478.7 581.4L1483.8 581.4L1488.8 580.3
L1493.7 579.6L1498.7 579.3L1503.6 577.8L1508.6 577.2L1513.5 576.6L1518.5 575.9L1523.4 575.4L1528.4 574.4L1533.3 572.9L1538.2 572.7L1543.2 571L1548.1 570.2L1553.1 568.4L1558 567.3
L1563 565.9L1567.9 564.7L1572.9 564.5L1577.8 562.6L1582.8 560.9L1587.7 560.4L1592.7 558.4L1597.6 557.7L1602.9 556.5L1608.1 554.4L1613.8 553.3L1618.9 551.1L1623 550.4L1626.7 557
L1632.4 552.3L1637.5 549.5L1643.2 546.3L1648.6 543.5L1654.4 541.9L1660 540L1665.9 537L1670.9 536.2L1676.5 533.6L1682.2 531.4L1687.8 527.8L1693.4 525.5L1698.8 522.5L1704.1 520.1
L1709.5 516.9L1714.9 515.2L1720.3 512.1L1725.6 508.9L1730.9 506L1736 502.8L1741.1 499.4L1746.2 496L1751.6 491.7L1757 488.9L1762.3 485.7L1767.6 482L1772.7 479L1777.9 475.8
L1783 471.6L1788.1 468.1L1793.3 464.7L1798.5 462.3L1803.7 458.3L1809.4 454.4L1814.4 449.9L1819.3 447L1824.3 443.3L1829.9 439L1835.6 434.3L1841.3 430.1L1846.9 425.7L1852.4 421.5
L1857.9 416.5L1863.3 412.6L1868.7 407.1L1874.3 402.7L1879.2 398.3L1884.1 394.7L1889.5 389.9L1894.4 385L1899.8 378.4L1904.8 372.3L1910 366.1L1915 358.8L1920.2 351.4L1925.3 347.2
L1928.4 344.6"/>
</g>
<g id="curve-blue" class="cv" stroke="#0000ff">
<path d="M1927.2 355.3L1922.3 388.8L1917.4 418.3L1912.2 443.4L1907.2 462.2L1902.3 477.3"/>
<path d="M1902.3 477.3L1897.3 490.5"/>
<path d="M1897.3 490.5L1892.4 506L1887.2 525.1"/>
<path d="M1887.2 525.1L1882.3 539.1"/>
<path d="M1882.3 539.1L1877.2 553.9"/>
<path marker-mid="url(#dot-blue)" d="M1877.2 553.9L1872.3 566.8L1867.2 577.9L1862 588.9L1856.8 599.4L1851.9 611.6L1846.7 621.9L1841.7 632.1L1836.4 642.3L1831.4 649.8L1826 659.1L1820.6 667.4L1815.5 675.4L1810.2 683.5
L1805.1 689.4L1799.8 696.7L1794.5 703.7L1789.1 709.3L1783.7 716.3L1778.3 722.3L1772.8 728.6L1767.9 734.1L1762.8 739.6L1757.4 745.2L1752.4 751.1L1747.4 756.8L1742 762L1736.6 766.6
L1731.2 771.5L1726.1 775L1721.1 779.6L1716 782.9L1710.9 787.4L1705.8 790.5L1700.2 794L1694.5 797.3L1688.9 800.6L1683.3 804.3L1677.6 807.6L1672 809.6L1666.3 812.8L1660.7 815.6
L1655 818L1649.4 820.9L1644 824.6L1638.4 826.5L1633.3 829.6L1627.6 831.4L1622.6 833.6L1617.1 836.2L1611.6 838.5L1605.9 841.1L1600.1 843.4L1594.3 846.2L1588.6 848L1582.9 851.2
L1577.3 853.1L1571.7 856.2L1566 858.6L1560.4 859.9L1554.7 863.2L1549.1 865.3L1543.4 866.8L1537.8 869.4L1532.2 871.9L1526.5 874.1L1520.9 876.4L1515.2 878.4L1509.6 880.9L1504 882.7
L1498.2 884.8L1492.4 886.1L1486.5 888.5L1480.7 890.8L1474.9 891.6L1469.1 893.5L1463.9 894.9L1458.8 897L1453.8 897.4L1448.9 899L1443.1 900.3L1438 901.5L1433 901.8L1427.1 903.4
L1421.3 903.6L1416.3 904.9L1411.4 905.4L1406.5 907L1401.5 908L1396.6 909L1391.6 909.1L1386.7 910.3L1381.7 911.6L1376.8 912.1L1371.8 912.9L1366.9 914.1L1361.9 915.5L1357 916
L1352 916.7L1347.1 917.5L1342.1 918.6L1337.2 919.9L1332.2 920.8L1327.3 922.5L1322.3 923.4L1317.4 924.9L1312.4 925L1307.5 927L1302.5 928.2L1297.6 928.5L1292.6 930L1287.7 931.1
L1282.7 932.8L1277.8 933.6L1272.9 934.6L1267.9 935.7L1263 937.7L1258 938.8L1253.1 940.4L1248.1 941.5L1243.2 943.4L1238.2 944L1233.3 945.6L1228.3 946.7L1223.4 947.5L1218.4 949
L1213.5 950.2L1208.5 952L1203.6 953.1L1198.6 955.2L1193.7 956.2L1188.7 958.3L1183.8 959.7L1178.8 960.5L1173.9 962.2L1168.9 963.6L1164 965.7L1159 966.6L1154.1 968.1L1149.1 970
L1144.2 971.4L1138.3 974.1L1132.7 976.4L1127 978.9L1121.4 981.1L1115.8 983.2L1110.1 985.5L1104.5 988.6L1099 991.2L1093.6 993.9L1088.3 997L1082.9 1000.2L1077.6 1002.8L1072.3 1006.4
L1066.9 1009.7L1061.8 1013L1056.8 1016.5L1051.8 1020.5L1046.8 1023.2L1041.1 1027.5L1035.8 1031.1L1030.7 1034.2L1025.7 1037.3L1020.6 1041.1L1015.4 1044.7L1010.2 1047.7L1005.1 1052.2
L1000 1055.8L994.9 1058.8L989.2 1063.6L984.2 1067.8L979.1 1070.2L973.6 1070.7L968.6 1068.3L963.5 1066.6L958.5 1066.3L952.6 1065.3L947.6 1064L942.4 1063.3L936.5 1063.1L931.4 1063.1
L926.2 1063.2L921 1064.5L916 1063.8L910.1 1064.9L905.1 1065.3L900.1 1066L894.9 1066.7L889.7 1066.6L883.9 1067.6L878.9 1067.7L873.8 1068.4L868.6 1068.8L863.4 1070.1L858.2 1069.8
L853.1 1071L848 1071.3L842.9 1071.6L837.8 1072.3L832.7 1072.1L827.6 1072.9L822.6 1073.5L817.5 1073.9L812.5 1074.5L807.5 1075.7L802.6 1076.7L797.6 1077.4L792.7 1077.4L787.7 1078.6
L782.8 1079.5L777.8 1080.6L772.9 1081L767.9 1082L763 1081.9L758 1083.1L753.1 1083.7L748.1 1084.4L743.2 1085.5L738.2 1085.9L733.3 1086.9L728.3 1087.7L723.4 1089.1L718.4 1089
L713.5 1090.5L708.5 1091L703.6 1092.4L698.6 1093L693.5 1094.7L688.4 1095.5L683.3 1096.5L678.2 1097.9L673.3 1099.2L667.7 1100.4L661.7 1101L656.5 1102L651.6 1102.4L645.8 1103.8
L640.1 1104L635 1105.5L629.1 1105.9L623.3 1107.1L618.3 1107.7L613.4 1108.7L608.4 1109.9L603.5 1109.9L598.6 1111.6L593.6 1112.4L588.7 1113.2L583.7 1114.8L578.8 1115.8L573.8 1116.2
L568.9 1117.7L563.9 1119.1L559 1120.5L554 1121.6L549.1 1123L544.1 1123.4L539.2 1125.3L534.2 1125.9L529.3 1127.2L524.3 1128.8L519.4 1129.4L514.4 1130.7L509.5 1132.5L504.5 1133.6
L499.6 1134.6L494.6 1135.2L489.7 1137.3L484.7 1138.4L479.8 1140L474.8 1141.5L469.9 1142.7L464.9 1144.2L460 1145.6L455 1148.1L450.1 1149L445.1 1150.9L440.2 1152.5L435.2 1154.9
L430.3 1156.3L425.3 1157.9L420.4 1159.5L415.4 1161.8L409.8 1164.1L404.2 1166.2L398.5 1168.4L392.9 1169.6L387.2 1172.5L381.6 1174.2L376 1176.4L370.3 1179.1L364.7 1181.8L359 1184
L353.4 1186.6L347.7 1189L342.1 1191.4L336.4 1193.8L330.7 1196.1L325 1197.7L319.4 1200.1L314.4 1203.1L308.8 1205.2L303.5 1207.6L299.2 1210"/>
<path d="M299.2 1210L303.4 1168.9L308.3 1141.1L313.4 1120.8L318.3 1103.9L323.4 1089.4"/>
<path marker-mid="url(#dot-blue)" d="M323.4 1089.4L328.4 1076L333.7 1064.1L338.8 1054.4L343.9 1043.3L349 1031.1L354.3 1020.6L359.7 1010.5L365.2 1002.3L370.6 993.1L375.8 983.8L380.9 975.5L385.8 968.6L391.3 960.6
L396.5 954.4L401.9 946.4L406.9 940.2L411.9 933.2L417 926.9L422.1 920.6L427.3 914.5L432.9 908.4L438.3 903.7L443.8 898L449.3 893.6L454.8 888.4L460.3 884.8L465.8 880.3L471.3 875.6
L476.7 871.1L482.2 866.6L487.8 862.8L492.7 858.6L497.7 854.8L502.7 851.5L507.7 848L512.7 843.9L517.6 840.3L522.6 837.3L527.6 833.6L532.5 830.1L537.5 825.6L542.5 822.6L547.9 818.3
L553.4 815L559 811.5L564.1 807.5L569.6 804.5L574.7 800.9L580.1 798.6L585.6 794.6L591.3 791.5L597 787.9L602.5 785.4L607.9 782.5L613.3 779.9L618.7 776.5L624.1 774.5L629.5 771.6
L635 769.6L640.4 766.5L645.9 764.3L651.3 761.9L656.8 759.4L662.3 756.8L667.8 754.1L673.3 751.8L678.9 748.9L684.4 746.8L689.9 744L695.5 741.8L701 740.2L706.7 737.7L712.3 734.8
L717.9 732.5L723.6 731.3L729.2 729L734.9 726.1L740.5 725L746.2 722.1L751.9 720.8L757.6 718L763.4 716.3L769.1 713.6L774.9 711.8L780.7 710.1L786.4 708.2L792.2 705.5L797.9 703.9
L803.7 701.4L809.5 699.4L815.2 698.5L821 696.2L826.7 693.9L832.5 692.5L838.3 689.8L844 688L849.8 686L855.5 684.6L861.3 681.5L867 679.9L872.8 678.1L878.6 676L884.3 673.5L890.1 671.7
L896 669.9L901 667.9L906 666.4L911.1 664.2L916.1 662.5L921.9 660.5L927.6 658.4L932.8 656.4L938.3 654.4L943.4 652.6L949 650.3L954.4 648.2L960 645.8L965.7 643.9L971.5 641.7
L977.3 639.6L982.9 637L987.8 635.9L992.8 633.4L998.6 632.5L1004.4 630.6L1010.1 627.9L1015.7 625.4L1021.4 623.5L1027 622.1L1032.5 619.4L1038.2 617.6L1043.9 615L1049.6 612.3
L1054.5 610.7L1060.4 608.3L1066 606L1071.8 603.5L1077.3 601.2L1082.9 598.8L1088.3 596.3L1093.6 592.6L1099 590.5L1104.5 587.3L1110.1 585.4L1115.7 583L1121.4 581.5L1126.3 579.7
L1131.3 578.2L1136.2 576.8L1141.3 576L1146.5 576L1151.7 575L1156.9 575L1162.2 575.3L1167.4 574.8L1172.6 575.7L1177.8 575.5L1182.8 576.5L1187.7 577.6L1192.7 578.2L1197.6 579.5
L1202.6 580.3L1207.5 580.7L1212.5 581.6L1217.4 581.9L1222.4 582.7L1227.3 584.1L1232.3 584.1L1237.4 584.9L1242.6 585.6L1247.8 585.7L1253.1 586.2L1258.3 586.7L1263.5 587.9
L1268.7 588.8L1274 588.4L1279.2 589.4L1284.4 589.7L1289.6 590L1294.8 590.3L1300.1 589.9L1305.3 590.2L1310.5 589.7L1315.7 590.3L1321 590.3L1326.2 590L1331.4 589.4L1336.6 589.9
L1341.9 589.8L1347.1 589.2L1352.3 589L1357.5 588.7L1362.8 588.6L1368 588.4L1373.2 587.6L1378.4 586.9L1383.7 587.1L1388.9 586.8L1394.1 585.6L1399.3 584.7L1404.5 584.2L1409.8 584.7
L1415 583.8L1420.2 583L1425.4 582.2L1430.5 582.1L1435.7 581.8L1441.1 581.5L1447 580.7L1452 580.3L1457.2 579.3L1462.1 579.2L1467.1 577.6L1472.1 576.8L1477.9 575.2L1483.8 573.6
L1488.8 572.5L1493.7 571.8L1498.7 570.4L1503.6 569.4L1508.6 569L1513.5 568.5L1518.5 567.4L1523.4 565.4L1529.3 563.6L1535.2 561.7L1540.2 560.5L1546 559.2L1551.1 557.9L1556.1 556.9
L1561.9 555.4L1566.9 554.3L1571.9 553.2L1577.7 551.7L1582.7 551.5L1587.6 550.6L1592.6 549.6L1597.6 548.8L1602.5 547.6L1607.5 546.6L1612.5 545.6L1617.4 543.9L1622.4 542.6
L1627.3 541.5L1632.3 540.2L1637.2 539.1L1642.2 538L1647.1 537.2L1652.1 535.5L1657 534.7L1662 533.3L1666.9 531.8L1671.9 529.5L1676.8 528.4L1681.8 526.7L1686.7 524.8L1692.6 522.4
L1698.2 520.1L1703.8 518L1709.5 515.5L1715.1 512.8L1720.8 511.4L1726.4 508.4L1732.1 507L1737.7 504.1L1743.4 501.9L1748.9 498.9L1754.3 496.2L1759.7 493.1L1765 489.7L1770.4 486.1
L1775.8 482.9L1781.2 479.8L1786.5 477.4L1791.8 473.8L1797.1 470.6L1802.6 466.7L1808.3 462.7L1813.3 459.7L1818.4 456.5L1823.5 452.8L1828.4 448.6L1834.1 444.3L1839.7 439.2
L1845.3 434.7L1850.8 430.4L1856.3 426.4L1861.7 421L1867.2 416.9L1872.6 412.5L1877.5 407.8L1882.5 404.3L1888 399.4L1893.7 393.9L1899.1 388.4L1904.1 383.3L1909.5 377.4L1914.8 370.3
L1920.3 364.4L1925.2 358L1927.2 355.3"/>
</g>
</g>
<g id="axes">
<rect class="ax" x="265.5" y="93.6" width="1773.5" height="1293.3000000000002"/>
<path class="ax" d="M376.3 1386.9V1361.1M487.2 1386.9V1373.9M598.0 1386.9V1361.1M708.9 1386.9V1373.9M819.7 1386.9V1361.1M930.6 1386.9V1373.9M1041.4 1386.9V1361.1M1152.2 1386.9V1373.9M1263.1 1386.9V1361.1M1373.9 1386.9V1373.9M1484.8 1386.9V1361.1M1595.6 1386.9V1373.9M1706.5 1386.9V1361.1M1817.3 1386.9V1373.9M1928.2 1386.9V1361.1M265.5 1202.1H291.3M265.5 1017.4H278.5M265.5 832.6H291.3M265.5 647.9H278.5M265.5 463.1H291.3M265.5 278.4H278.5"/>
</g>
<g id="xticks" class="tk" text-anchor="middle">
<text transform="translate(375.3 1478.7) scale(1 1.035)">-0,4</text>
<text transform="translate(597.0 1478.7) scale(1 1.035)">-0,2</text>
<text transform="translate(818.7 1478.7) scale(1 1.035)">0,0</text>
<text transform="translate(1040.4 1478.7) scale(1 1.035)">0,2</text>
<text transform="translate(1262.1 1478.7) scale(1 1.035)">0,4</text>
<text transform="translate(1483.8 1478.7) scale(1 1.035)">0,6</text>
<text transform="translate(1705.5 1478.7) scale(1 1.035)">0,8</text>
<text transform="translate(1927.2 1478.7) scale(1 1.035)">1,0</text>
</g>
<g id="yticks" class="tk" text-anchor="end">
<text transform="translate(236 116.8) scale(1 1.035)">4</text>
<text transform="translate(236 486.3) scale(1 1.035)">2</text>
<text transform="translate(236 855.8) scale(1 1.035)">0</text>
<text transform="translate(236 1225.3) scale(1 1.035)">-2</text>
</g>
<text id="title" x="311.6" y="212.2" font-size="82.5">Graphene paper laser irradiated</text>
<text id="xlabel" x="675.6" y="1632.6" font-size="104.8">Potential vs SCE (V)</text>
<text id="ylabel-j" transform="translate(142.4 1030.5) rotate(-90) skewX(-19)" font-size="105">J</text>
<text id="ylabel" transform="translate(142.4 1027) rotate(-90)" font-size="105"><tspan x="76">(mA</tspan><tspan x="297">cm</tspan><tspan font-size="65" x="434.5" dy="-57.5">-2</tspan><tspan x="495.5" dy="57.5">)</tspan></text>
<g id="legend">
<rect x="1511" y="1012.3" width="434.4000000000001" height="316.9000000000001" fill="#fff" stroke="#000" stroke-width="2.3"/>
<path class="cv" stroke="#008080" style="stroke-width:7.1" d="M1516.9 1047.4H1644.5"/>
<text class="lg" x="1660.5" y="1067.1">Pristine</text>
<path class="cv" stroke="#000000" style="stroke-width:7.1" d="M1516.9 1130.6H1644.5"/>
<text class="lg" x="1660.5" y="1149.8">0.25 J cm<tspan font-size="34" dy="-32.2" dx="0">-2</tspan></text>
<path class="cv" stroke="#ff0000" style="stroke-width:7.1" d="M1516.9 1213.8H1644.5"/>
<text class="lg" x="1660.5" y="1232.8">0.5 J cm<tspan font-size="34" dy="-32.2" dx="0">-2</tspan></text>
<path class="cv" stroke="#0000ff" style="stroke-width:7.1" d="M1516.9 1297.0H1644.5"/>
<text class="lg" x="1660.5" y="1316.3">1.5 J cm<tspan font-size="34" dy="-32.2" dx="0">-2</tspan></text>
</g>
</svg>
</body>
</html>
